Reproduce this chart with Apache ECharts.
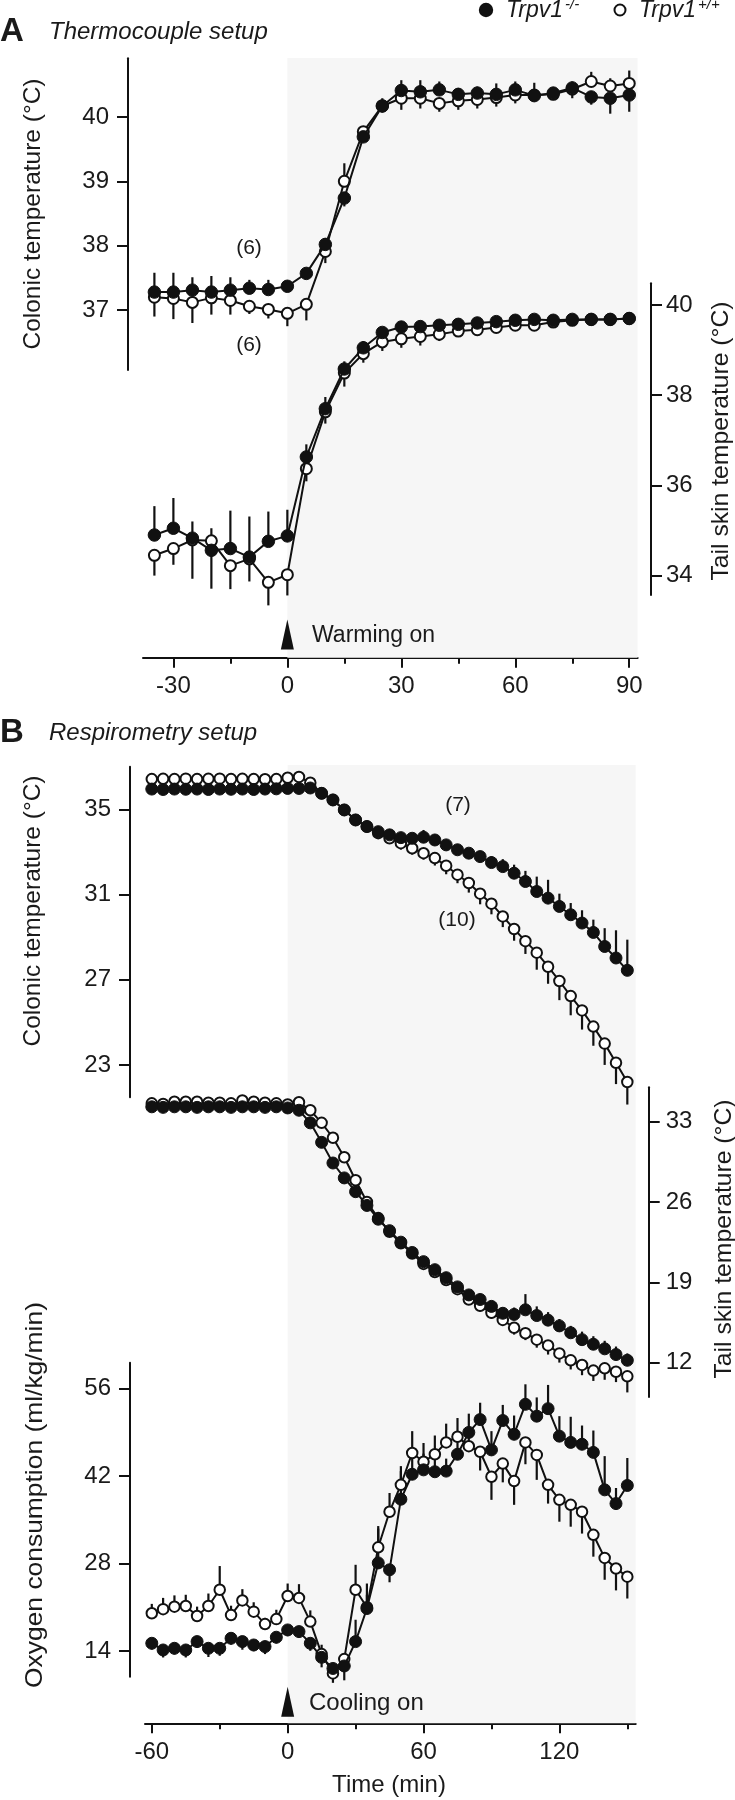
<!DOCTYPE html>
<html>
<head>
<meta charset="utf-8">
<script src="https://cdn.jsdelivr.net/npm/echarts@6/dist/echarts.min.js"></script>
<style>
html,body{margin:0;padding:0;background:#fff;}
#chart{width:735px;height:1800px;}
</style>
</head>
<body>
<div id="chart"></div>
<script>
// ---------------- DATA ----------------
// Panel A (thermocouple setup), time in min
const TIME_A = [-35,-30,-25,-20,-15,-10,-5,0,5,10,15,20,25,30,35,40,45,50,55,60,65,70,75,80,85,90];
const colonicA_KO = [37.28,37.28,37.31,37.28,37.31,37.34,37.32,37.37,37.57,38.02,38.74,39.69,40.17,40.41,40.39,40.42,40.35,40.37,40.35,40.42,40.33,40.37,40.45,40.31,40.29,40.34];
const colonicA_KO_err = [0.3,0.3,0.2,0.25,0.2,0.13,0.15,0.08,0.09,0.1,-0.13,0.15,0.12,0.16,0.18,0.13,0.1,0.1,0.17,0.13,0.2,0.06,0.1,-0.12,-0.24,-0.26];
const colonicA_WT = [37.2,37.18,37.12,37.19,37.15,37.06,37.01,36.95,37.09,37.91,39.0,39.77,40.17,40.29,40.29,40.21,40.25,40.27,40.3,40.34,40.34,40.35,40.43,40.55,40.48,40.52];
const colonicA_WT_err = [-0.3,-0.32,-0.32,-0.26,-0.22,-0.12,-0.14,-0.2,-0.25,-0.18,0.28,-0.12,-0.1,-0.18,-0.16,-0.13,-0.14,-0.14,-0.14,-0.13,-0.08,-0.09,-0.14,0.15,0.12,0.2];
const tailA_KO = [34.9,35.05,34.83,34.56,34.6,34.41,34.76,34.88,36.63,37.7,38.58,39.05,39.39,39.51,39.52,39.55,39.57,39.6,39.63,39.66,39.68,39.66,39.68,39.68,39.68,39.7];
const tailA_KO_err = [0.64,0.67,0.37,0.49,0.84,0.9,0.66,0.58,0.28,0.26,0.17,0.15,0.11,0.1,0.08,0.07,0.07,0.06,0.06,0.06,0.06,0.05,0.05,0.05,0.05,0.05];
const tailA_WT = [34.45,34.6,34.79,34.77,34.22,34.37,33.85,34.02,36.37,37.63,38.49,38.92,39.18,39.25,39.3,39.35,39.42,39.45,39.5,39.55,39.55,39.62,39.66,39.68,39.68,39.7];
const tailA_WT_err = [-0.45,-0.36,-0.86,-1.06,-0.52,-0.5,-0.51,-0.46,-0.28,-0.26,-0.3,-0.2,-0.2,-0.2,-0.2,-0.15,-0.1,-0.1,-0.1,-0.08,-0.08,-0.06,-0.06,-0.05,-0.05,-0.05];

// Panel B (respirometry setup)
const TIME_B = [-60,-55,-50,-45,-40,-35,-30,-25,-20,-15,-10,-5,0,5,10,15,20,25,30,35,40,45,50,55,60,65,70,75,80,85,90,95,100,105,110,115,120,125,130,135,140,145,150];
const colonicB_KO = [35.95,35.93,35.95,35.94,35.95,35.93,35.95,35.94,35.95,35.93,35.95,35.96,35.98,35.98,36.0,35.75,35.44,34.97,34.5,34.19,33.95,33.8,33.67,33.64,33.69,33.56,33.33,33.1,32.94,32.78,32.5,32.31,32.0,31.61,31.14,30.83,30.44,30.05,29.66,29.22,28.56,28.02,27.44];
const colonicB_KO_err = [0.1,0.1,0.1,0.1,0.1,0.1,0.1,0.1,0.1,0.1,0.1,0.1,0.1,0.1,0.1,0.1,0.1,0.1,0.1,0.1,0.1,0.12,0.15,0.2,0.34,0.25,0.2,0.2,0.2,0.25,0.3,0.35,0.4,0.5,0.7,0.86,0.6,0.55,0.6,0.6,0.86,1.3,1.44];
const colonicB_WT = [36.42,36.43,36.42,36.44,36.42,36.43,36.44,36.42,36.43,36.42,36.41,36.42,36.48,36.52,36.25,35.75,35.44,34.97,34.5,34.19,33.88,33.64,33.41,33.17,32.94,32.71,32.35,31.93,31.54,31.04,30.57,29.97,29.38,28.81,28.27,27.61,26.94,26.23,25.56,24.8,24.0,23.1,22.2];
const colonicB_WT_err = [-0.1,-0.1,-0.1,-0.1,-0.1,-0.1,-0.1,-0.1,-0.1,-0.1,-0.1,-0.1,-0.1,-0.1,-0.1,-0.1,-0.1,-0.1,-0.1,-0.1,-0.1,-0.15,-0.3,-0.3,-0.3,-0.35,-0.4,-0.4,-0.45,-0.5,-0.5,-0.5,-0.55,-0.6,-0.8,-0.8,-0.9,-0.9,-0.9,-0.9,-1.0,-1.0,-1.06];
const tailB_KO = [34.3,34.25,34.3,34.3,34.25,34.3,34.3,34.25,34.3,34.3,34.25,34.3,34.2,34.0,32.9,31.2,29.4,28.1,26.9,25.7,24.5,23.5,22.5,21.6,20.8,20.1,19.4,18.6,17.9,17.5,16.9,16.3,16.2,16.6,16.1,15.7,15.2,14.6,14.0,13.6,13.2,12.7,12.2];
const tailB_KO_err = [0.2,0.2,0.2,0.2,0.2,0.2,0.2,0.2,0.2,0.2,0.2,0.2,0.2,0.3,0.4,0.4,0.4,0.4,0.4,0.4,0.4,0.3,0.3,0.3,0.3,0.3,0.3,0.3,0.4,0.5,0.5,0.5,0.6,1.37,0.8,0.7,0.6,0.6,0.7,0.7,0.7,0.7,0.6];
const tailB_WT = [34.6,34.55,34.75,34.75,34.75,34.65,34.65,34.6,34.85,34.75,34.65,34.6,34.5,34.7,34.0,32.9,31.6,29.9,27.9,26.0,24.6,23.4,22.4,21.5,20.6,19.9,19.2,18.4,17.5,16.95,16.34,15.72,15.04,14.56,14.0,13.5,12.8,12.2,11.8,11.3,11.5,11.2,10.8];
const tailB_WT_err = [-0.2,-0.2,-0.2,-0.2,-0.2,-0.2,-0.2,-0.2,-0.2,-0.2,-0.2,-0.2,-0.2,-0.3,-0.4,-0.4,-0.4,-0.3,-0.3,-0.3,-0.3,-0.3,-0.3,-0.3,-0.3,-0.3,-0.3,-0.3,-0.4,-0.5,-0.5,-0.5,-0.6,-0.6,-0.7,-0.8,-0.8,-0.8,-0.9,-0.9,-1.0,-0.9,-1.4];
const o2_KO = [15.23,14.16,14.43,14.16,15.5,14.43,14.43,16.03,15.5,14.96,14.7,16.2,17.37,17.1,15.23,12.98,11.2,11.6,15.5,20.8,28.1,27.0,38.3,42.3,43.0,42.7,42.8,45.5,49.0,51.05,46.2,50.9,48.7,53.5,51.6,52.8,48.4,47.4,47.1,45.8,39.8,37.6,40.5];
const o2_KO_err = [-1.0,-1.2,-1.0,-1.2,-1.0,-1.4,-1.2,-1.0,-1.3,-1.0,-1.2,-1.0,-1.0,-1.0,-1.2,-1.6,-1.5,-2.3,3.5,4.0,5.9,-2.0,4.5,3.0,2.6,2.0,2.0,3.0,3.0,2.7,3.0,2.5,3.0,3.2,3.0,3.8,3.2,4.1,3.0,3.5,5.4,2.5,4.4];
const o2_WT = [20.04,20.7,21.1,21.2,19.6,21.2,23.8,19.75,22.1,20.3,18.3,19.1,22.8,22.5,18.7,13.5,10.4,12.7,23.8,21.0,30.6,36.3,40.6,45.7,44.3,45.5,47.4,48.3,46.8,45.9,41.9,44.0,41.2,47.4,45.4,40.6,38.2,37.4,36.3,32.6,28.9,27.2,25.9];
const o2_WT_err = [1.5,1.8,1.8,1.8,1.5,2.0,3.8,1.5,1.8,1.5,1.0,1.5,2.0,2.2,1.8,1.5,-1.5,-1.5,4.0,2.0,3.0,3.0,3.0,3.5,3.0,3.0,3.0,3.0,3.0,-3.0,-3.7,-3.0,-3.8,-3.5,-4.0,-3.0,-3.5,-3.5,-3.5,-3.5,-3.5,-3.5,-3.5];

// Tick labels
const TICKS_X_A = [-30,0,30,60,90];
const MINOR_X_A = [-15,15,45,75];
const TICKS_X_B = [-60,0,60,120];
const MINOR_X_B = [-30,30,90,150];
const TICKS_COLONIC_A = [37,38,39,40];
const TICKS_TAIL_A = [34,36,38,40];
const TICKS_COLONIC_B = [23,27,31,35];
const TICKS_TAIL_B = [12,19,26,33];
const TICKS_O2 = [14,28,42,56];

// ---------------- CHART ----------------
const FONT = '"Liberation Sans", Arial, Helvetica, sans-serif';
const INK = '#111';
const TXT = '#1a1a1a';
const SHADE = '#f6f6f6';

function hiddenX(grid, min, max){ return {type:'value', gridIndex:grid, min, max, show:false}; }
function hiddenY(grid, min, max){ return {type:'value', gridIndex:grid, min, max, show:false}; }
function majorX(grid, min, max, ticks){
  return {type:'value', gridIndex:grid, min, max, position:'bottom',
    axisLine:{show:true, lineStyle:{color:INK, width:2}},
    axisTick:{show:true, length:10, customValues:ticks, lineStyle:{color:INK, width:2}},
    axisLabel:{show:true, customValues:ticks, margin:17, fontSize:24, color:TXT, fontFamily:FONT},
    splitLine:{show:false}};
}
function minorX(grid, min, max, ticks){
  return {type:'value', gridIndex:grid, min, max, position:'bottom',
    axisLine:{show:false},
    axisTick:{show:true, length:6, customValues:ticks, lineStyle:{color:INK, width:2}},
    axisLabel:{show:false}, splitLine:{show:false}};
}
function valY(grid, min, max, ticks, pos, offset, margin){
  return {type:'value', gridIndex:grid, min, max, position:pos, offset,
    axisLine:{show:true, onZero:false, lineStyle:{color:INK, width:2}},
    axisTick:{show:true, length:11, customValues:ticks, lineStyle:{color:INK, width:2}},
    axisLabel:{show:true, customValues:ticks, margin, fontSize:24, color:TXT, fontFamily:FONT},
    splitLine:{show:false}};
}

function lineSeries(xi, yi, times, vals, filled, size, z){
  return {type:'line', xAxisIndex:xi, yAxisIndex:yi, z, clip:false,
    data: times.map((t,i)=>[t, vals[i]]),
    symbol:'circle', symbolSize:size, showSymbol:true, showAllSymbol:true,
    lineStyle:{color:INK, width:2},
    itemStyle: filled ? {color:INK, borderColor:INK, borderWidth:1}
                      : {color:'#fff', borderColor:INK, borderWidth:2},
    emphasis:{disabled:true}, silent:true};
}
function errSeries(xi, yi, times, vals, errs, z){
  return {type:'custom', xAxisIndex:xi, yAxisIndex:yi, z, clip:false, silent:true,
    data: times.map((t,i)=>[t, vals[i], vals[i]+errs[i]]),
    encode:{x:0, y:[1,2]},
    renderItem:function(params, api){
      const p1 = api.coord([api.value(0), api.value(1)]);
      const p2 = api.coord([api.value(0), api.value(2)]);
      return {type:'line', shape:{x1:p1[0], y1:p1[1], x2:p2[0], y2:p2[1]},
              style:{stroke:INK, lineWidth:2.2}};
    }};
}

// panel geometry
const A_L = 143, A_W = 494.6, A_XMIN = -38, A_XMAX = 92.2;
const B_L = 145, B_W = 490.7, B_XMIN = -63, B_XMAX = 153.7;

const grids = [
  {left:A_L, width:A_W, top:58, height:599.7},     // 0 panel A background
  {left:A_L, width:A_W, top:58.3, height:311.7},   // 1 colonic A
  {left:A_L, width:A_W, top:283.3, height:311.7},  // 2 tail A
  {left:B_L, width:B_W, top:765, height:958.3},    // 3 panel B background
  {left:B_L, width:B_W, top:766.7, height:330.6},  // 4 colonic B
  {left:B_L, width:B_W, top:1087.3, height:309.7}, // 5 tail B
  {left:B_L, width:B_W, top:1362.7, height:314}    // 6 O2
].map(g => Object.assign({outerBoundsMode:'none', containLabel:false}, g));

const xAxes = [
  majorX(0, A_XMIN, A_XMAX, TICKS_X_A),   // 0
  minorX(0, A_XMIN, A_XMAX, MINOR_X_A),   // 1
  hiddenX(1, A_XMIN, A_XMAX),             // 2
  hiddenX(2, A_XMIN, A_XMAX),             // 3
  majorX(3, B_XMIN, B_XMAX, TICKS_X_B),   // 4
  minorX(3, B_XMIN, B_XMAX, MINOR_X_B),   // 5
  hiddenX(4, B_XMIN, B_XMAX),             // 6
  hiddenX(5, B_XMIN, B_XMAX),             // 7
  hiddenX(6, B_XMIN, B_XMAX)              // 8
];
const yAxes = [
  hiddenY(0, 0, 1),                                              // 0
  valY(1, 36.07, 40.91, TICKS_COLONIC_A, 'left', 15, 19),        // 1
  valY(2, 33.57, 40.48, TICKS_TAIL_A, 'right', 13.4, 15),        // 2
  hiddenY(3, 0, 1),                                              // 3
  valY(4, 21.48, 37.0, TICKS_COLONIC_B, 'left', 15, 19),         // 4
  valY(5, 9.0, 36.0, TICKS_TAIL_B, 'right', 13, 17),             // 5
  valY(6, 9.88, 60.16, TICKS_O2, 'left', 15, 19)                 // 6
];

function backdrop(xi, yi, xmax, triY){
  return {type:'scatter', xAxisIndex:xi, yAxisIndex:yi, z:0, symbolSize:0, silent:true,
    data:[[0,0]],
    markArea:{silent:true, itemStyle:{color:SHADE}, data:[[{xAxis:0, yAxis:0},{xAxis:xmax, yAxis:1}]]},
    markPoint:{silent:true, symbol:'triangle', symbolSize:[13,30], itemStyle:{color:INK},
      label:{show:false}, data:[{coord:[0, triY]}]}};
}

const series = [
  backdrop(0, 0, A_XMAX, 0.0387),
  backdrop(4, 3, B_XMAX, 0.0225),
  // Panel A colonic
  errSeries(2, 1, TIME_A, colonicA_WT, colonicA_WT_err, 2),
  errSeries(2, 1, TIME_A, colonicA_KO, colonicA_KO_err, 2),
  lineSeries(2, 1, TIME_A, colonicA_WT, false, 11, 3),
  lineSeries(2, 1, TIME_A, colonicA_KO, true, 12.5, 4),
  // Panel A tail
  errSeries(3, 2, TIME_A, tailA_WT, tailA_WT_err, 2),
  errSeries(3, 2, TIME_A, tailA_KO, tailA_KO_err, 2),
  lineSeries(3, 2, TIME_A, tailA_WT, false, 11, 3),
  lineSeries(3, 2, TIME_A, tailA_KO, true, 12.5, 4),
  // Panel B colonic
  errSeries(6, 4, TIME_B, colonicB_WT, colonicB_WT_err, 2),
  errSeries(6, 4, TIME_B, colonicB_KO, colonicB_KO_err, 2),
  lineSeries(6, 4, TIME_B, colonicB_WT, false, 10.5, 3),
  lineSeries(6, 4, TIME_B, colonicB_KO, true, 12, 4),
  // Panel B tail
  errSeries(7, 5, TIME_B, tailB_WT, tailB_WT_err, 2),
  errSeries(7, 5, TIME_B, tailB_KO, tailB_KO_err, 2),
  lineSeries(7, 5, TIME_B, tailB_WT, false, 10.5, 3),
  lineSeries(7, 5, TIME_B, tailB_KO, true, 12, 4),
  // Panel B O2
  errSeries(8, 6, TIME_B, o2_WT, o2_WT_err, 2),
  errSeries(8, 6, TIME_B, o2_KO, o2_KO_err, 2),
  lineSeries(8, 6, TIME_B, o2_WT, false, 10.5, 3),
  lineSeries(8, 6, TIME_B, o2_KO, true, 12, 4)
];

function txt(x, y, text, size, opts){
  opts = opts || {};
  return {type:'text', x, y, rotation: opts.rot || 0, scaleX: opts.sx || 1, z:10,
    style:{text, fill:TXT,
      font:(opts.style||'') + ' ' + (opts.weight||'normal') + ' ' + size + 'px ' + FONT,
      textAlign: opts.align || 'left', textVerticalAlign: opts.valign || 'middle'}};
}
const R = Math.PI/2;
const graphics = [
  // panel letters / titles
  txt(0, 32, 'A', 33, {weight:'bold'}),
  txt(49, 32, 'Thermocouple setup', 24, {style:'italic'}),
  txt(0, 733, 'B', 33, {weight:'bold'}),
  txt(49, 733, 'Respirometry setup', 24, {style:'italic'}),
  // legend
  {type:'circle', shape:{cx:486, cy:10, r:7.2}, style:{fill:INK}, z:10},
  txt(506, 11, 'Trpv1', 23, {style:'italic'}),
  txt(565, 5, '-/-', 15, {style:'italic'}),
  {type:'circle', shape:{cx:620, cy:10, r:5.5}, style:{fill:'#fff', stroke:INK, lineWidth:2}, z:10},
  txt(639, 11, 'Trpv1', 23, {style:'italic'}),
  txt(698, 5, '+/+', 15, {style:'italic'}),
  // axis titles
  txt(33, 214, 'Colonic temperature (°C)', 24, {rot:R, align:'center', sx:1.02}),
  txt(721, 441, 'Tail skin temperature (°C)', 24, {rot:R, align:'center', sx:1.03}),
  txt(33, 911, 'Colonic temperature (°C)', 24, {rot:R, align:'center', sx:1.02}),
  txt(724, 1239, 'Tail skin temperature (°C)', 24, {rot:R, align:'center', sx:1.03}),
  txt(35, 1495, 'Oxygen consumption (ml/kg/min)', 24, {rot:R, align:'center', sx:1.1}),
  txt(389, 1785, 'Time (min)', 24, {align:'center'}),
  // annotations
  txt(249, 248, '(6)', 21, {align:'center'}),
  txt(249, 345, '(6)', 21, {align:'center'}),
  txt(458, 805, '(7)', 21, {align:'center'}),
  txt(457, 920, '(10)', 21, {align:'center'}),
  txt(312, 636, 'Warming on', 23),
  txt(309, 1703, 'Cooling on', 24)
];

const chart = echarts.init(document.getElementById('chart'), null, {renderer:'canvas'});
chart.setOption({
  animation:false,
  backgroundColor:'#fff',
  textStyle:{fontFamily:FONT},
  grid: grids,
  xAxis: xAxes,
  yAxis: yAxes,
  series: series,
  graphic: graphics
});
</script>
</body>
</html>
